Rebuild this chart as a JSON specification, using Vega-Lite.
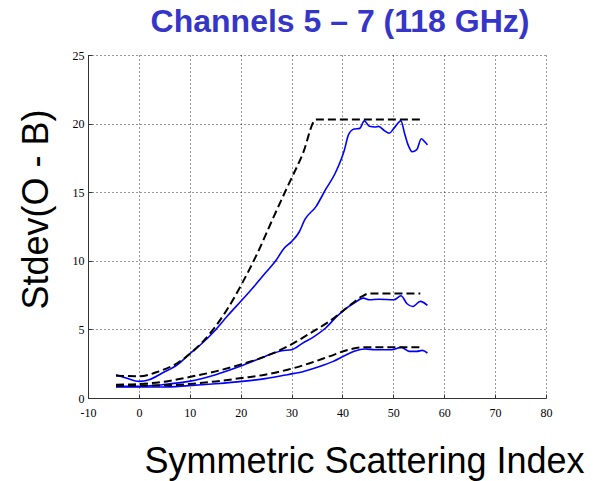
{
  "$schema": "https://vega.github.io/schema/vega-lite/v6.json",
  "autosize": {"type": "none"},
  "padding": {"left": 88, "top": 55, "right": 48, "bottom": 83},
  "width": 458,
  "height": 343,
  "background": "white",
  "title": {
    "text": "Channels 5 – 7 (118 GHz)",
    "font": "Liberation Sans",
    "fontSize": 32,
    "fontWeight": "bold",
    "color": "#3535c8",
    "anchor": "middle",
    "baseline": "alphabetic",
    "dx": 23,
    "dy": 31,
    "offset": 16
  },
  "data": {
    "values": [
      {"curve": "A", "kind": "obs", "x": -4.5, "y": 1.70},
      {"curve": "A", "kind": "obs", "x": -2.5, "y": 1.46},
      {"curve": "A", "kind": "obs", "x": 0.1, "y": 1.21},
      {"curve": "A", "kind": "obs", "x": 2.0, "y": 1.33},
      {"curve": "A", "kind": "obs", "x": 4.6, "y": 1.82},
      {"curve": "A", "kind": "obs", "x": 7.6, "y": 2.43},
      {"curve": "A", "kind": "obs", "x": 9.8, "y": 3.16},
      {"curve": "A", "kind": "obs", "x": 12.1, "y": 3.88},
      {"curve": "A", "kind": "obs", "x": 15.1, "y": 4.98},
      {"curve": "A", "kind": "obs", "x": 17.3, "y": 5.94},
      {"curve": "A", "kind": "obs", "x": 20.3, "y": 7.16},
      {"curve": "A", "kind": "obs", "x": 22.5, "y": 8.07},
      {"curve": "A", "kind": "obs", "x": 24.8, "y": 9.09},
      {"curve": "A", "kind": "obs", "x": 27.0, "y": 10.06},
      {"curve": "A", "kind": "obs", "x": 28.5, "y": 10.9},
      {"curve": "A", "kind": "obs", "x": 30.0, "y": 11.4},
      {"curve": "A", "kind": "obs", "x": 31.5, "y": 12.1},
      {"curve": "A", "kind": "obs", "x": 32.6, "y": 13.0},
      {"curve": "A", "kind": "obs", "x": 34.8, "y": 13.95},
      {"curve": "A", "kind": "obs", "x": 36.7, "y": 15.2},
      {"curve": "A", "kind": "obs", "x": 38.6, "y": 16.4},
      {"curve": "A", "kind": "obs", "x": 40.4, "y": 18.1},
      {"curve": "A", "kind": "obs", "x": 41.2, "y": 19.2},
      {"curve": "A", "kind": "obs", "x": 42.3, "y": 19.6},
      {"curve": "A", "kind": "obs", "x": 43.4, "y": 19.65},
      {"curve": "A", "kind": "obs", "x": 44.3, "y": 20.2},
      {"curve": "A", "kind": "obs", "x": 45.3, "y": 19.8},
      {"curve": "A", "kind": "obs", "x": 46.4, "y": 19.75},
      {"curve": "A", "kind": "obs", "x": 47.1, "y": 19.8},
      {"curve": "A", "kind": "obs", "x": 48.2, "y": 19.5},
      {"curve": "A", "kind": "obs", "x": 49.2, "y": 19.3},
      {"curve": "A", "kind": "obs", "x": 50.1, "y": 19.65},
      {"curve": "A", "kind": "obs", "x": 51.5, "y": 20.2},
      {"curve": "A", "kind": "obs", "x": 52.2, "y": 19.3},
      {"curve": "A", "kind": "obs", "x": 52.9, "y": 18.45},
      {"curve": "A", "kind": "obs", "x": 53.7, "y": 17.95},
      {"curve": "A", "kind": "obs", "x": 54.6, "y": 18.1},
      {"curve": "A", "kind": "obs", "x": 55.5, "y": 18.9},
      {"curve": "A", "kind": "obs", "x": 56.1, "y": 18.7},
      {"curve": "A", "kind": "obs", "x": 56.7, "y": 18.45},
      {"curve": "A", "kind": "model", "x": -4.5, "y": 1.63},
      {"curve": "A", "kind": "model", "x": 0.1, "y": 1.58},
      {"curve": "A", "kind": "model", "x": 3.9, "y": 1.94},
      {"curve": "A", "kind": "model", "x": 7.6, "y": 2.55},
      {"curve": "A", "kind": "model", "x": 10.6, "y": 3.4},
      {"curve": "A", "kind": "model", "x": 14.3, "y": 4.85},
      {"curve": "A", "kind": "model", "x": 17.3, "y": 6.43},
      {"curve": "A", "kind": "model", "x": 20.3, "y": 8.37},
      {"curve": "A", "kind": "model", "x": 23.3, "y": 10.56},
      {"curve": "A", "kind": "model", "x": 26.2, "y": 12.97},
      {"curve": "A", "kind": "model", "x": 29.2, "y": 15.4},
      {"curve": "A", "kind": "model", "x": 32.2, "y": 17.8},
      {"curve": "A", "kind": "model", "x": 34.8, "y": 20.3},
      {"curve": "A", "kind": "model", "x": 55.3, "y": 20.3},
      {"curve": "B", "kind": "obs", "x": -4.5, "y": 0.85},
      {"curve": "B", "kind": "obs", "x": 0.1, "y": 0.85},
      {"curve": "B", "kind": "obs", "x": 4.6, "y": 0.97},
      {"curve": "B", "kind": "obs", "x": 9.8, "y": 1.21},
      {"curve": "B", "kind": "obs", "x": 15.1, "y": 1.70},
      {"curve": "B", "kind": "obs", "x": 19.9, "y": 2.31},
      {"curve": "B", "kind": "obs", "x": 24.8, "y": 3.03},
      {"curve": "B", "kind": "obs", "x": 28.1, "y": 3.45},
      {"curve": "B", "kind": "obs", "x": 30.0, "y": 3.52},
      {"curve": "B", "kind": "obs", "x": 32.2, "y": 4.0},
      {"curve": "B", "kind": "obs", "x": 34.5, "y": 4.49},
      {"curve": "B", "kind": "obs", "x": 36.7, "y": 5.1},
      {"curve": "B", "kind": "obs", "x": 38.9, "y": 5.95},
      {"curve": "B", "kind": "obs", "x": 40.8, "y": 6.55},
      {"curve": "B", "kind": "obs", "x": 42.3, "y": 6.92},
      {"curve": "B", "kind": "obs", "x": 44.1, "y": 7.28},
      {"curve": "B", "kind": "obs", "x": 45.3, "y": 7.16},
      {"curve": "B", "kind": "obs", "x": 47.1, "y": 7.2},
      {"curve": "B", "kind": "obs", "x": 50.1, "y": 7.16},
      {"curve": "B", "kind": "obs", "x": 51.5, "y": 7.45},
      {"curve": "B", "kind": "obs", "x": 52.7, "y": 6.87},
      {"curve": "B", "kind": "obs", "x": 53.8, "y": 6.67},
      {"curve": "B", "kind": "obs", "x": 55.3, "y": 7.04},
      {"curve": "B", "kind": "obs", "x": 56.7, "y": 6.75},
      {"curve": "B", "kind": "model", "x": -4.5, "y": 0.97},
      {"curve": "B", "kind": "model", "x": 0.1, "y": 1.02},
      {"curve": "B", "kind": "model", "x": 5.4, "y": 1.21},
      {"curve": "B", "kind": "model", "x": 10.6, "y": 1.58},
      {"curve": "B", "kind": "model", "x": 15.1, "y": 1.94},
      {"curve": "B", "kind": "model", "x": 19.9, "y": 2.43},
      {"curve": "B", "kind": "model", "x": 24.8, "y": 3.03},
      {"curve": "B", "kind": "model", "x": 29.2, "y": 3.76},
      {"curve": "B", "kind": "model", "x": 33.7, "y": 4.73},
      {"curve": "B", "kind": "model", "x": 37.4, "y": 5.58},
      {"curve": "B", "kind": "model", "x": 41.2, "y": 6.67},
      {"curve": "B", "kind": "model", "x": 43.8, "y": 7.4},
      {"curve": "B", "kind": "model", "x": 45.3, "y": 7.62},
      {"curve": "B", "kind": "model", "x": 55.3, "y": 7.62},
      {"curve": "C", "kind": "obs", "x": -4.5, "y": 0.8},
      {"curve": "C", "kind": "obs", "x": 4.6, "y": 0.8},
      {"curve": "C", "kind": "obs", "x": 9.8, "y": 0.9},
      {"curve": "C", "kind": "obs", "x": 15.1, "y": 1.04},
      {"curve": "C", "kind": "obs", "x": 20.3, "y": 1.21},
      {"curve": "C", "kind": "obs", "x": 24.8, "y": 1.41},
      {"curve": "C", "kind": "obs", "x": 29.2, "y": 1.70},
      {"curve": "C", "kind": "obs", "x": 32.2, "y": 1.92},
      {"curve": "C", "kind": "obs", "x": 35.2, "y": 2.26},
      {"curve": "C", "kind": "obs", "x": 38.2, "y": 2.67},
      {"curve": "C", "kind": "obs", "x": 40.4, "y": 3.08},
      {"curve": "C", "kind": "obs", "x": 42.3, "y": 3.4},
      {"curve": "C", "kind": "obs", "x": 44.5, "y": 3.57},
      {"curve": "C", "kind": "obs", "x": 46.4, "y": 3.52},
      {"curve": "C", "kind": "obs", "x": 49.7, "y": 3.52},
      {"curve": "C", "kind": "obs", "x": 51.6, "y": 3.69},
      {"curve": "C", "kind": "obs", "x": 53.1, "y": 3.4},
      {"curve": "C", "kind": "obs", "x": 54.6, "y": 3.4},
      {"curve": "C", "kind": "obs", "x": 55.7, "y": 3.47},
      {"curve": "C", "kind": "obs", "x": 56.7, "y": 3.28},
      {"curve": "C", "kind": "model", "x": -4.5, "y": 0.9},
      {"curve": "C", "kind": "model", "x": 4.6, "y": 0.92},
      {"curve": "C", "kind": "model", "x": 10.6, "y": 1.04},
      {"curve": "C", "kind": "model", "x": 15.1, "y": 1.21},
      {"curve": "C", "kind": "model", "x": 20.3, "y": 1.46},
      {"curve": "C", "kind": "model", "x": 24.8, "y": 1.70},
      {"curve": "C", "kind": "model", "x": 29.2, "y": 2.06},
      {"curve": "C", "kind": "model", "x": 33.7, "y": 2.55},
      {"curve": "C", "kind": "model", "x": 37.4, "y": 3.03},
      {"curve": "C", "kind": "model", "x": 41.2, "y": 3.52},
      {"curve": "C", "kind": "model", "x": 44.1, "y": 3.7},
      {"curve": "C", "kind": "model", "x": 55.3, "y": 3.7}
    ]
  },
  "encoding": {
    "x": {
      "field": "x",
      "type": "quantitative",
      "scale": {"domain": [-10, 80], "nice": false, "zero": false},
      "axis": {
        "values": [-10, 0, 10, 20, 30, 40, 50, 60, 70, 80],
        "labelExpr": "'' + datum.value",
        "title": "Symmetric Scattering Index",
        "titleX": 276,
        "titleY": 74,
        "titleAlign": "center",
        "titleBaseline": "alphabetic",
        "labelPadding": 13,
        "labelFlush": false,
        "labelOverlap": false
      }
    },
    "y": {
      "field": "y",
      "type": "quantitative",
      "scale": {"domain": [0, 25], "nice": false, "zero": false},
      "axis": {
        "values": [0, 5, 10, 15, 20, 25],
        "labelExpr": "'' + datum.value",
        "title": "Stdev(O - B)",
        "titleAngle": 270,
        "titleX": -41,
        "titleY": 154,
        "titleAlign": "center",
        "titleBaseline": "alphabetic",
        "labelPadding": 8,
        "labelFlush": false,
        "labelOverlap": false
      }
    },
    "detail": {"field": "curve", "type": "nominal"}
  },
  "layer": [
    {
      "transform": [{"filter": "datum.kind === 'obs'"}],
      "mark": {"type": "line", "color": "#0000ff", "strokeWidth": 1.6, "interpolate": "monotone"}
    },
    {
      "transform": [{"filter": "datum.kind === 'model'"}],
      "mark": {"type": "line", "color": "#000000", "strokeWidth": 2, "strokeDash": [8, 4], "interpolate": "monotone"}
    }
  ],
  "config": {
    "view": {"stroke": null},
    "axis": {
      "grid": true,
      "gridColor": "#000000",
      "gridDash": [1, 3],
      "gridWidth": 1,
      "gridOpacity": 0.8,
      "domainColor": "#333333",
      "domainWidth": 1,
      "tickColor": "#333333",
      "tickSize": -4,
      "labelFont": "Liberation Serif",
      "labelFontSize": 12,
      "labelColor": "#000000",
      "titleFont": "Liberation Sans",
      "titleFontSize": 36,
      "titleFontWeight": "normal",
      "titleColor": "#000000"
    }
  }
}
